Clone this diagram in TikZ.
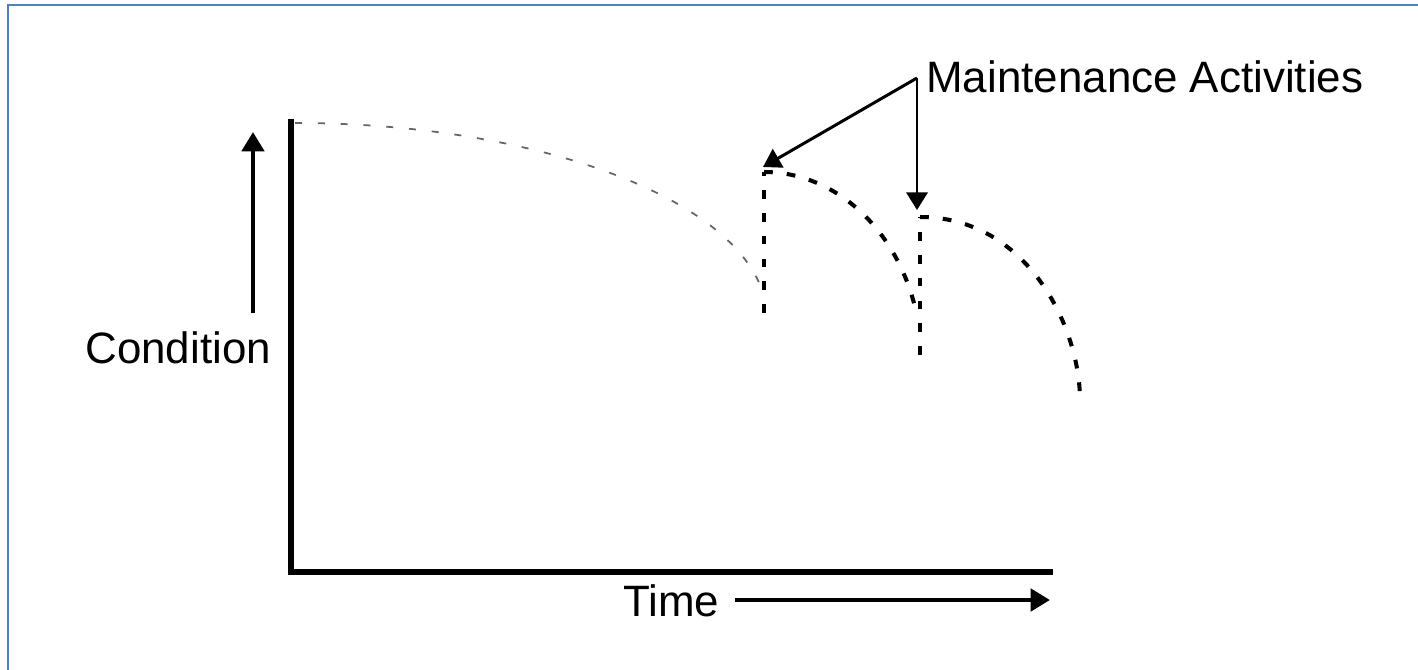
\documentclass[tikz,border=0pt]{standalone}
\usepackage{fontspec}
\setmainfont{Liberation Sans}
\usetikzlibrary{arrows.meta}
\definecolor{frameblue}{RGB}{79,129,189}

\begin{document}
\begin{tikzpicture}[
 x=0.02cm, y=-0.02cm,
 lbl/.style={font=\fontsize{25}{30}\selectfont, inner sep=0pt, anchor=base west},
 axis/.style={line width=3.4pt, black, line cap=rect},
 bigarr/.style={-{Triangle[length=11pt,width=12.5pt]}, line width=2.8pt},
 arr/.style={-{Triangle[length=10pt,width=12pt]}, line width=1.7pt},
 trend/.style={line width=1pt, black!60, dash pattern=on 4pt off 9pt},
 jump/.style={line width=2.3pt, dash pattern=on 5pt off 8pt},
]
\useasboundingbox (0,0) rectangle (1418,670);
\draw[frameblue, line width=1.6pt] (8,670) -- (8,5) -- (1418,5);

% labels
\node[lbl] (cond) at (85,363) {Condition};
\node[lbl] (time) at (623,616) {Time};
\node[lbl] (maint) at (926,92) {Maintenance Activities};

\coordinate (ybot) at (253,313);
\coordinate (ytop) at (253,132);
\coordinate (xstart) at (735,600);
\coordinate (xend) at (1050,600);
\coordinate (fork) at (917,78);
\coordinate (m1) at (763,167);
\coordinate (m2) at (917,210);

% axes
\draw[axis] (291,122) -- (291,572) -- (1050,572);
\draw[bigarr] (ybot) -- (ytop);
\draw[bigarr] (xstart) -- (xend);

% condition curves
\draw[trend] (295,123) .. controls (529,123) and (728,194) .. (762,290);
\draw[jump] (764,313) -- (764,172);
\draw[jump] (764,172) .. controls (834,172) and (895,227) .. (915,307);
\draw[jump] (920,355) -- (920,217);
\draw[jump] (920,217) .. controls (1027,217) and (1080,327) .. (1080,400);

% maintenance pointers
\draw[arr] (fork) -- (m1);
\draw[arr] (fork) -- (m2);

\end{tikzpicture}
\end{document}
